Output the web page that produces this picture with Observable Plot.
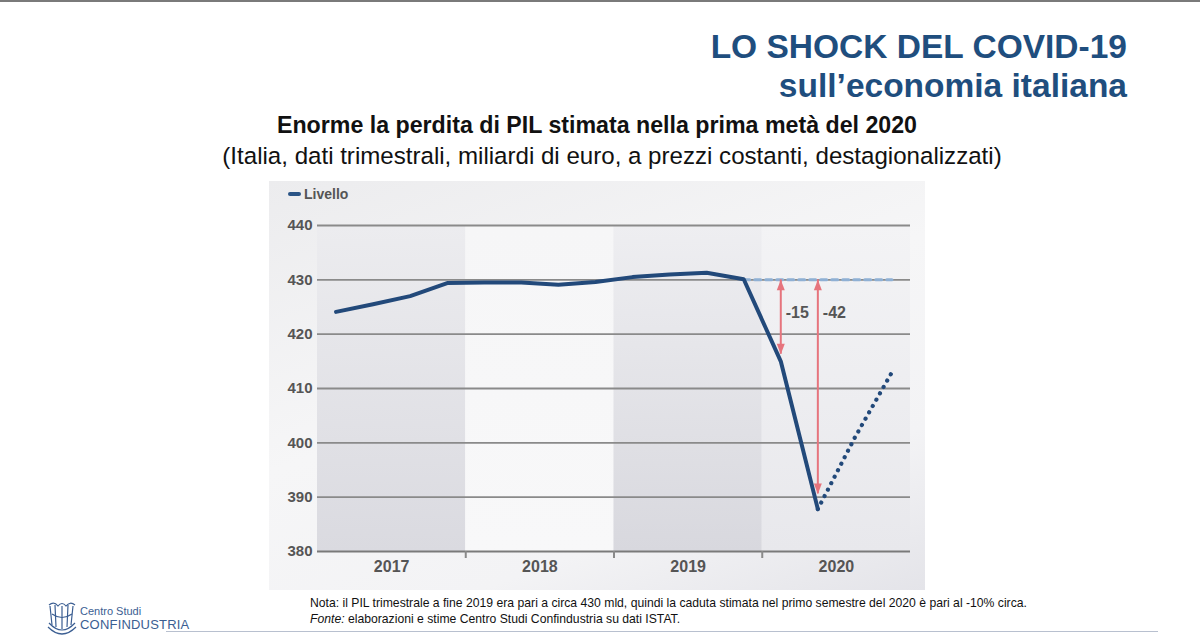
<!DOCTYPE html>
<html>
<head>
<meta charset="utf-8">
<script src="https://cdn.jsdelivr.net/npm/d3@7"></script>
<script src="https://cdn.jsdelivr.net/npm/@observablehq/plot@0.6"></script>
<style>
  html, body { margin: 0; padding: 0; background: #fff; }
  body { width: 1200px; height: 642px; position: relative; overflow: hidden; font-family: "Liberation Sans", Arial, sans-serif; }
  #topline { position: absolute; left: 0; top: 0; width: 1200px; height: 2px; background: #7a7a7a; }
  .t1 { position: absolute; right: 73px; top: 28px; font: bold 33.5px "Liberation Sans", Arial, sans-serif; color: #1f4e7e; white-space: nowrap; }
  .t2 { position: absolute; right: 73px; top: 67px; font: bold 33.5px "Liberation Sans", Arial, sans-serif; color: #1f4e7e; white-space: nowrap; }
  .sub1 { position: absolute; left: 0; width: 1194px; text-align: center; top: 112px; font: bold 23.2px "Liberation Sans", Arial, sans-serif; color: #111; white-space: nowrap; }
  .sub2 { position: absolute; left: 0; width: 1224px; text-align: center; top: 142px; font: 24.1px "Liberation Sans", Arial, sans-serif; color: #111; white-space: nowrap; }
  #chart { position: absolute; left: 269px; top: 181px; width: 656px; height: 409px;
           background: linear-gradient(160deg, #ececee 0%, #f6f6f7 45%, #f3f3f5 75%, #e4e4e9 100%); }
  #legend { position: absolute; left: 288px; top: 186px; font: bold 14px "Liberation Sans Narrow", "Liberation Sans", sans-serif; color: #555; display: flex; align-items: center; gap: 3px; }
  #legend .sym { display: inline-block; width: 13px; height: 4px; background: #2a5486; border-radius: 2px; }
  .note { position: absolute; left: 310px; font: 12.2px "Liberation Sans", Arial, sans-serif; color: #111; white-space: nowrap; }
  #logo { position: absolute; left: 46px; top: 601px; }
  #logotext { position: absolute; left: 80px; top: 605px; font: 11px "Liberation Sans", Arial, sans-serif; color: #3b5e92; line-height: 13px; }
  #logotext .big { font-size: 13px; letter-spacing: 0.2px; }
  #bottomline { position: absolute; left: 166px; top: 631px; width: 992px; height: 1px; background: #b8c0cf; }
</style>
</head>
<body>
<div id="topline"></div>
<div class="t1">LO SHOCK DEL COVID-19</div>
<div class="t2">sull’economia italiana</div>
<div class="sub1">Enorme la perdita di PIL stimata nella prima metà del 2020</div>
<div class="sub2">(Italia, dati trimestrali, miliardi di euro, a prezzi costanti, destagionalizzati)</div>
<div id="chart"></div>
<div id="legend"><span class="sym"></span><span>Livello</span></div>
<div class="note" style="top:596px">Nota: il PIL trimestrale a fine 2019 era pari a circa 430 mld, quindi la caduta stimata nel primo semestre del 2020 è pari al -10% circa.</div>
<div class="note" style="top:612px"><i>Fonte:</i> elaborazioni e stime Centro Studi Confindustria su dati ISTAT.</div>
<svg id="logo" width="32" height="34" viewBox="0 0 32 34">
  <g fill="none" stroke="#3b5e92" stroke-width="1.2">
    <path d="M3 4 Q8 0 12 5 Q16 0 20 5 Q24 0 29 4"/>
    <path d="M4 5 L6 24 M9 4 L10 26 M16 5 L16 28 M22 4 L21 26 M27 5 L25 24"/>
    <path d="M3 22 Q16 36 29 22"/>
    <path d="M2 26 Q16 40 30 26"/>
    <path d="M6 13 Q16 20 26 13"/>
  </g>
</svg>
<div id="logotext"><div>Centro Studi</div><div class="big">CONFINDUSTRIA</div></div>
<div id="bottomline"></div>

<script>
// ---- data ----
const years = ["2017", "2018", "2019", "2020"];
const quarters = ["2017T1","2017T2","2017T3","2017T4","2018T1","2018T2","2018T3","2018T4",
                  "2019T1","2019T2","2019T3","2019T4","2020T1","2020T2"];
const livello = [424.1, 425.5, 427.0, 429.4, 429.5, 429.5, 429.1, 429.6,
                 430.5, 431.0, 431.3, 430.1, 415.0, 387.8];
const forecastQuarters = ["2020T2", "2020T3", "2020T4"];
const forecastValues = [387.8, 401.0, 413.0];
const refQuarters = ["2019T4", "2020T4"];
const refValue = 430;
const yTicks = [380, 390, 400, 410, 420, 430, 440];
const annotQuarters = ["2020T1", "2020T2"];
const annotFrom = [430, 430];
const annotTo = [416.3, 390.6];
const annotLabels = ["-15", "-42"];
const bandFills = ["url(#b0)", "url(#b1)", "url(#b2)", "url(#b3)"];

// quarter label -> continuous x (year + centre of quarter)
const qx = q => +q.slice(0, 4) + (+q.slice(5) - 0.5) / 4;

const main = quarters.map((q, i) => ({x: qx(q), y: livello[i]}));
const fc = forecastQuarters.map((q, i) => ({x: qx(q), y: forecastValues[i]}));
const ref = refQuarters.map(q => ({x: qx(q), y: refValue}));
const annots = annotQuarters.map((q, i) => ({x: qx(q), y1: annotFrom[i], y2: annotTo[i], label: annotLabels[i]}));
const bands = years.map((y, i) => ({x1: +y, x2: +y + 1, fill: bandFills[i]}));

// elongated triangle with its tip at the origin, pointing up
const tri = {
  draw(ctx, size) {
    const r = Math.sqrt(size / Math.PI);
    ctx.moveTo(0, 0);
    ctx.lineTo(r, 2.6 * r);
    ctx.lineTo(-r, 2.6 * r);
    ctx.closePath();
  }
};

function defs() {
  const ns = "http://www.w3.org/2000/svg";
  const d = document.createElementNS(ns, "defs");
  const stops = [["#ececef", "#dadae0"], ["#f6f6f7", "#f8f8f9"], ["#eeeef1", "#d8d8de"], ["#f3f3f5", "#e8e8ec"]];
  stops.forEach((s, i) => {
    const g = document.createElementNS(ns, "linearGradient");
    g.setAttribute("id", "b" + i);
    g.setAttribute("x1", "0"); g.setAttribute("y1", "0");
    g.setAttribute("x2", "0"); g.setAttribute("y2", "1");
    s.forEach((c, j) => {
      const st = document.createElementNS(ns, "stop");
      st.setAttribute("offset", j ? "1" : "0");
      st.setAttribute("stop-color", c);
      g.appendChild(st);
    });
    d.appendChild(g);
  });
  return d;
}

const narrow = '"Liberation Sans Narrow", "Liberation Sans", sans-serif';

const chart = Plot.plot({
  width: 656,
  height: 409,
  marginLeft: 48,
  marginRight: 15,
  marginTop: 44,
  marginBottom: 39,
  style: {background: "transparent", fontFamily: narrow, overflow: "visible"},
  x: {domain: [2017, 2021]},
  y: {domain: [380, 440]},
  marks: [
    defs,
    Plot.rect(bands, {x1: "x1", x2: "x2", y1: 380, y2: 440, fill: "fill"}),
    Plot.ruleY(yTicks.filter(t => t !== 380), {stroke: "#8a8a8a", strokeWidth: 1.8}),
    Plot.ruleY([380], {stroke: "#7a7a7a", strokeWidth: 2}),
    Plot.axisY({ticks: yTicks, tickSize: 0, tickPadding: 5, tickFormat: d => d, fontSize: 15, fontWeight: "bold", fill: "#555", label: null}),
    Plot.axisX({ticks: [2018, 2019, 2020], tickSize: 7, tickFormat: () => "", stroke: "#8a8a8a", strokeWidth: 2, label: null}),
    Plot.text(years, {x: d => +d + 0.5, y: 380, dy: 15, text: d => d, fontSize: 16, fontWeight: "bold", fill: "#555"}),
    Plot.line(ref, {x: "x", y: "y", stroke: "#8fb0d4", strokeWidth: 3, strokeDasharray: "6,5"}),
    Plot.ruleX(annots, {x: "x", y1: "y1", y2: "y2", stroke: "#e6747d", strokeWidth: 2}),
    Plot.dot(annots, {x: "x", y: "y1", symbol: tri, r: 4, fill: "#e6747d", stroke: null}),
    Plot.dot(annots, {x: "x", y: "y2", symbol: tri, r: 4, rotate: 180, fill: "#e6747d", stroke: null}),
    Plot.text(annots, {x: "x", y: 423.9, text: "label", dx: 5, textAnchor: "start", fontSize: 16, fontWeight: "bold", fill: "#555"}),
    Plot.line(fc, {x: "x", y: "y", stroke: "#22497a", strokeWidth: 4.2, strokeDasharray: "0.1,7.2", strokeLinecap: "round"}),
    Plot.line(main, {x: "x", y: "y", stroke: "#22497a", strokeWidth: 4, strokeLinejoin: "round", strokeLinecap: "round"})
  ]
});
document.getElementById("chart").appendChild(chart);
</script>
</body>
</html>
